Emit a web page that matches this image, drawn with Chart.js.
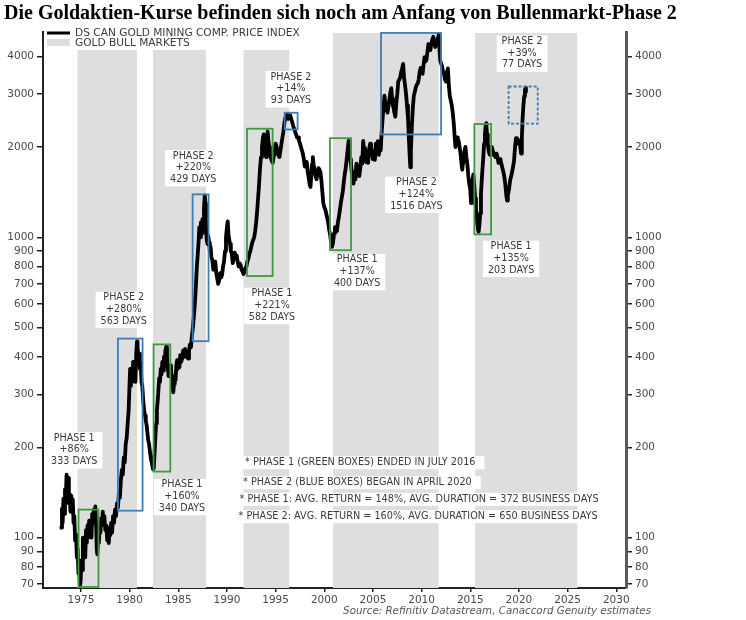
<!DOCTYPE html>
<html><head><meta charset="utf-8">
<script src="https://cdn.jsdelivr.net/npm/chart.js@4.4.0/dist/chart.umd.min.js"></script>
<style>
html,body{margin:0;padding:0;background:#fff;}
#wrap{position:relative;width:746px;height:620px;overflow:hidden;background:#fff;}
#title{position:absolute;left:4px;top:0px;font-family:'Liberation Serif',serif;font-weight:bold;font-size:20px;color:#000;white-space:nowrap;line-height:24px;}
#c{position:absolute;left:0;top:0;}
</style></head><body>
<div id="wrap"><canvas id="c" width="746" height="620"></canvas><div id="title">Die Goldaktien-Kurse befinden sich noch am Anfang von Bullenmarkt-Phase 2</div></div>
<script>
// ---------- DATA ----------
const seriesName = 'DS CAN GOLD MINING COMP. PRICE INDEX';
const bandName = 'GOLD BULL MARKETS';
// [year, index value]
const priceSeries = [
[1972.98,108],[1973.05,125],[1973.12,112],[1973.2,135],[1973.28,120],[1973.36,145],[1973.45,138],[1973.52,162],[1973.6,150],[1973.68,158],[1973.76,130],[1973.84,140],[1973.92,122],[1974.0,138],[1974.08,128],[1974.16,134],[1974.24,112],[1974.32,118],[1974.4,98],[1974.5,102],[1974.58,86],[1974.66,92],[1974.74,76],[1974.82,80],[1974.9,69],[1974.97,72],
[1975.05,84],[1975.12,78],[1975.2,100],[1975.28,90],[1975.36,96],[1975.44,86],[1975.52,106],[1975.6,96],[1975.68,110],[1975.76,100],[1975.84,114],[1975.92,104],[1976.0,110],[1976.08,100],[1976.16,120],[1976.24,112],[1976.32,124],[1976.4,116],[1976.48,127],[1976.56,110],[1976.62,92],[1976.68,88],[1976.76,100],[1976.84,96],[1976.92,108],[1977.0,104],[1977.08,116],[1977.16,110],[1977.24,122],[1977.32,114],[1977.4,118],[1977.5,106],[1977.6,110],[1977.7,98],[1977.78,102],[1977.86,96],[1977.94,108],[1978.02,102],[1978.1,112],[1978.2,104],[1978.3,118],[1978.4,112],[1978.5,124],[1978.6,118],[1978.7,130],[1978.8,126],[1978.9,141],[1979.0,136],[1979.1,155],[1979.2,168],[1979.3,162],[1979.4,185],[1979.5,178],[1979.6,205],[1979.7,215],[1979.8,240],[1979.9,265],
[1980.0,330],[1980.05,365],[1980.12,320],[1980.2,350],[1980.28,330],[1980.36,385],[1980.44,345],[1980.52,360],[1980.6,330],[1980.68,410],[1980.76,450],[1980.82,430],[1980.9,395],[1980.98,410],[1981.06,365],[1981.14,380],[1981.22,330],[1981.3,320],[1981.4,285],[1981.5,265],[1981.58,255],[1981.66,245],[1981.74,238],[1981.82,225],[1981.9,212],[1982.0,205],[1982.1,192],[1982.2,182],[1982.3,176],[1982.4,169],[1982.48,170],[1982.56,190],[1982.64,215],[1982.72,240],[1982.8,265],[1982.88,285],[1982.96,310],[1983.04,340],[1983.12,330],[1983.2,365],[1983.28,350],[1983.36,385],[1983.44,360],[1983.52,400],[1983.6,380],[1983.68,420],[1983.76,432],[1983.84,400],[1983.92,370],[1984.0,345],[1984.08,365],[1984.16,350],[1984.24,375],[1984.32,340],[1984.4,320],[1984.48,305],[1984.56,325],[1984.64,345],[1984.72,335],[1984.8,375],[1984.88,390],[1984.96,365],
[1985.04,385],[1985.12,370],[1985.2,405],[1985.3,385],[1985.4,395],[1985.5,420],[1985.6,400],[1985.7,425],[1985.8,400],[1985.9,415],[1986.0,395],[1986.1,420],[1986.2,440],[1986.3,430],[1986.4,470],[1986.5,500],[1986.6,545],[1986.7,600],[1986.8,680],[1986.9,790],[1987.0,880],[1987.08,960],[1987.16,1080],[1987.24,1000],[1987.32,1120],[1987.4,1020],[1987.48,1150],[1987.56,1040],[1987.64,1250],[1987.72,1380],[1987.78,1300],[1987.84,1100],[1987.92,980],[1988.0,950],[1988.08,1010],[1988.16,960],[1988.24,900],[1988.32,930],[1988.4,860],[1988.5,840],[1988.6,780],[1988.7,810],[1988.8,830],[1988.9,760],[1989.0,730],[1989.1,700],[1989.2,720],[1989.3,760],[1989.4,735],[1989.5,750],[1989.6,800],[1989.7,830],[1989.8,900],[1989.9,1000],
[1990.0,1080],[1990.08,1130],[1990.16,1020],[1990.24,980],[1990.32,950],[1990.4,900],[1990.5,880],[1990.6,820],[1990.7,850],[1990.8,890],[1990.9,860],[1991.0,870],[1991.1,830],[1991.2,800],[1991.3,820],[1991.4,810],[1991.5,780],[1991.6,770],[1991.7,755],[1991.8,770],[1991.9,790],[1992.0,800],[1992.1,830],[1992.2,850],[1992.3,880],[1992.4,900],[1992.5,930],[1992.6,960],[1992.7,980],[1992.8,1000],[1992.9,1050],[1993.0,1120],[1993.1,1220],[1993.2,1350],[1993.3,1500],[1993.4,1700],[1993.5,1850],[1993.6,2000],[1993.7,2150],[1993.78,2200],[1993.86,2050],[1993.94,1950],[1994.02,1850],[1994.1,2000],[1994.18,2250],[1994.26,2100],[1994.34,2000],[1994.42,1900],[1994.5,1850],[1994.6,1800],[1994.7,1770],[1994.8,1850],[1994.9,1950],
[1995.0,2050],[1995.1,2000],[1995.2,1900],[1995.3,1870],[1995.4,1850],[1995.5,1950],[1995.6,2050],[1995.7,2150],[1995.8,2250],[1995.9,2400],[1996.0,2500],[1996.1,2550],[1996.2,2570],[1996.3,2480],[1996.4,2520],[1996.5,2550],[1996.6,2480],[1996.7,2420],[1996.8,2350],[1996.9,2300],[1997.0,2250],[1997.1,2200],[1997.2,2150],[1997.3,2150],[1997.4,2100],[1997.5,2050],[1997.6,2000],[1997.7,1950],[1997.8,1900],[1997.9,1820],[1998.0,1720],[1998.1,1750],[1998.2,1780],[1998.3,1650],[1998.4,1580],[1998.5,1500],[1998.58,1470],[1998.66,1600],[1998.74,1750],[1998.82,1850],[1998.9,1750],[1999.0,1680],[1999.1,1600],[1999.2,1560],[1999.3,1620],[1999.4,1700],[1999.5,1680],[1999.6,1650],[1999.7,1550],[1999.8,1420],[1999.9,1300],
[2000.0,1260],[2000.1,1240],[2000.2,1200],[2000.3,1160],[2000.4,1120],[2000.5,1060],[2000.6,1020],[2000.7,960],[2000.8,930],[2000.9,960],[2001.0,1030],[2001.1,1080],[2001.2,1060],[2001.3,1050],[2001.4,1120],[2001.5,1170],[2001.6,1230],[2001.7,1300],[2001.8,1360],[2001.9,1420],[2002.0,1520],[2002.1,1620],[2002.2,1700],[2002.3,1820],[2002.4,1950],[2002.5,2094],[2002.58,1950],[2002.66,1820],[2002.74,1760],[2002.82,1650],[2002.9,1580],[2003.0,1510],[2003.1,1650],[2003.2,1560],[2003.3,1760],[2003.4,1640],[2003.5,1720],[2003.6,1600],[2003.7,1700],[2003.8,1850],[2003.9,1760],[2004.0,2094],[2004.1,1900],[2004.2,1980],[2004.3,1780],[2004.4,1850],[2004.5,1770],[2004.6,1950],[2004.7,2050],[2004.8,1880],[2004.9,1950],
[2005.0,1820],[2005.1,1900],[2005.2,1810],[2005.3,2050],[2005.4,1950],[2005.5,2090],[2005.6,1880],[2005.7,1980],[2005.8,1950],[2005.9,2250],[2006.0,2500],[2006.1,2750],[2006.18,2960],[2006.26,2800],[2006.34,2650],[2006.42,2700],[2006.5,2600],[2006.6,2750],[2006.7,2900],[2006.8,3050],[2006.88,3136],[2006.96,2900],[2007.04,2750],[2007.12,2700],[2007.2,2600],[2007.3,2520],[2007.4,2800],[2007.5,3000],[2007.6,3300],[2007.7,3350],[2007.8,3400],[2007.9,3550],[2008.0,3650],[2008.1,3780],[2008.2,3400],[2008.3,3200],[2008.4,3000],[2008.5,2750],[2008.6,2500],[2008.7,2100],[2008.78,1850],[2008.84,1710],[2008.9,1950],[2009.0,2350],[2009.1,2700],[2009.2,2950],[2009.3,3050],[2009.4,3150],[2009.5,3220],[2009.6,3250],[2009.7,3350],[2009.8,3550],[2009.9,3660],
[2010.0,3600],[2010.1,3500],[2010.2,3750],[2010.3,3980],[2010.4,3850],[2010.5,3900],[2010.6,4150],[2010.7,4400],[2010.8,4250],[2010.9,4200],[2011.0,4400],[2011.1,4550],[2011.2,4650],[2011.3,4500],[2011.4,4300],[2011.5,4400],[2011.6,4500],[2011.7,4650],[2011.76,4740],[2011.84,4200],[2011.92,3860],[2012.0,3800],[2012.1,3700],[2012.2,3550],[2012.3,3500],[2012.4,3350],[2012.5,3300],[2012.6,3500],[2012.7,3650],[2012.8,3200],[2012.9,2950],[2013.0,2850],[2013.1,2750],[2013.2,2600],[2013.3,2400],[2013.4,2150],[2013.48,1997],[2013.56,2100],[2013.64,2150],[2013.72,2050],[2013.8,2100],[2013.9,2000],[2014.0,1900],[2014.1,1750],[2014.18,1680],[2014.26,1780],[2014.34,1850],[2014.42,1950],[2014.5,2000],[2014.6,1850],[2014.7,1750],[2014.8,1600],[2014.9,1500],
[2015.0,1450],[2015.08,1300],[2015.16,1420],[2015.24,1550],[2015.32,1620],[2015.4,1500],[2015.5,1350],[2015.58,1250],[2015.66,1170],[2015.74,1100],[2015.8,1060],[2015.86,1043],[2015.94,1100],[2016.02,1200],[2016.1,1400],[2016.18,1550],[2016.26,1700],[2016.34,1850],[2016.42,2050],[2016.5,2200],[2016.58,2350],[2016.64,2400],[2016.72,2200],[2016.8,2050],[2016.88,1950],[2016.96,1900],[2017.04,1880],[2017.12,1950],[2017.2,2000],[2017.3,1950],[2017.4,1900],[2017.5,1870],[2017.6,1850],[2017.7,1900],[2017.8,1850],[2017.9,1770],[2018.0,1800],[2018.1,1820],[2018.2,1750],[2018.3,1700],[2018.4,1650],[2018.5,1590],[2018.6,1500],[2018.7,1380],[2018.78,1325],[2018.86,1380],[2018.94,1420],[2019.02,1480],[2019.1,1550],[2019.2,1600],[2019.3,1650],[2019.4,1720],[2019.5,1800],[2019.6,2000],[2019.7,2140],[2019.8,2050],[2019.9,2100],[2019.98,2094],
[2020.06,2100],[2020.14,2000],[2020.22,1900],[2020.3,2150],[2020.38,2500],[2020.46,2750],[2020.54,2950],[2020.62,3100],[2020.68,3150],[2020.72,3050]
];

const bullStart = [1974.65, 1982.4, 1991.7, 2000.9, 2015.5];
const bullEnd   = [1980.75, 1987.85, 1996.4, 2011.75, 2026.0];

// phase boxes: start year, end year, low value, high value, phase number
const boxStart = [1974.75, 1978.8, 1982.46, 1986.47, 1992.06, 1995.93, 2000.59, 2005.83, 2015.42, 2018.94];
const boxEnd   = [1976.8, 1981.33, 1984.18, 1988.11, 1994.69, 1997.26, 2002.75, 2012.0, 2017.14, 2021.93];
const boxLow   = [68, 123, 166, 451, 743, 2286, 906, 2200, 1023, 2389];
const boxHigh  = [124, 460, 440, 1390, 2299, 2598, 2138, 4790, 2383, 3177];
const boxPhase = [1, 2, 1, 2, 1, 2, 1, 2, 1, 2];

// annotation labels (one per box) and their anchor (year, value)
const labelPhase  = ['PHASE 1','PHASE 2','PHASE 1','PHASE 2','PHASE 1','PHASE 2','PHASE 1','PHASE 2','PHASE 1','PHASE 2'];
const labelReturn = ['+86%','+280%','+160%','+220%','+221%','+14%','+137%','+124%','+135%','+39%'];
const labelDays   = ['333 DAYS','563 DAYS','340 DAYS','429 DAYS','582 DAYS','93 DAYS','400 DAYS','1516 DAYS','203 DAYS','77 DAYS'];
const labelYear   = [1974.31, 1979.4, 1985.38, 1986.54, 1994.63, 1996.58, 2003.37, 2009.46, 2019.19, 2020.32];
const labelValue  = [196, 575, 137, 1705, 593, 3123, 769, 1390, 851, 4102];

const notes = ['* PHASE 1 (GREEN BOXES) ENDED IN JULY 2016',
               '* PHASE 2 (BLUE BOXES) BEGAN IN APRIL 2020',
               '* PHASE 1: AVG. RETURN = 148%, AVG. DURATION = 372 BUSINESS DAYS',
               '* PHASE 2: AVG. RETURN = 160%, AVG. DURATION = 650 BUSINESS DAYS'];
const sourceText = 'Source: Refinitiv Datastream, Canaccord Genuity estimates';

const xTicks = [1975,1980,1985,1990,1995,2000,2005,2010,2015,2020,2025,2030];
const yTicks = [70,80,90,100,200,300,400,500,600,700,800,900,1000,2000,3000,4000];

// ---------- LAYOUT / STYLE ----------
const noteX = [245, 243, 239.5, 238.5];
const noteY = [462.7, 482.7, 499.3, 516.7];
const BAND = '#dedede', GREEN = '#3f9a3f', BLUE = '#3f7db5';
const TXT = '#3a3a3a';
const FONT = 'DejaVu Sans';

const bandsPlugin = {
  id:'bands',
  beforeDatasetsDraw(chart){
    const {ctx, chartArea:a, scales:{x}} = chart;
    ctx.save();
    ctx.fillStyle = BAND;
    for(let i=0;i<bullStart.length;i++){
      const x1 = x.getPixelForValue(bullStart[i]), x2 = x.getPixelForValue(bullEnd[i]);
      ctx.fillRect(x1, a.top+1, x2-x1, a.bottom-a.top-1);
    }
    ctx.restore();
  }
};

const overlayPlugin = {
  id:'overlay',
  afterDatasetsDraw(chart){
    const {ctx, chartArea:a, scales:{x, y}} = chart;
    ctx.save();
    // phase boxes
    for(let i=0;i<boxStart.length;i++){
      const x1 = x.getPixelForValue(boxStart[i]), x2 = x.getPixelForValue(boxEnd[i]);
      const y1 = y.getPixelForValue(boxHigh[i]), y2 = y.getPixelForValue(boxLow[i]);
      ctx.strokeStyle = boxPhase[i]===1 ? GREEN : BLUE;
      ctx.lineWidth = 1.8;
      ctx.setLineDash(i===boxStart.length-1 ? [3,2] : []);
      ctx.strokeRect(x1, y1, x2-x1, Math.min(y2, a.bottom-1)-y1);
    }
    ctx.setLineDash([]);
    // labels
    ctx.font = `9.6px "${FONT}"`;
    ctx.textAlign = 'center';
    ctx.textBaseline = 'middle';
    for(let i=0;i<labelPhase.length;i++){
      const cx = x.getPixelForValue(labelYear[i]), cy = y.getPixelForValue(labelValue[i]);
      const lines = [labelPhase[i], labelReturn[i], labelDays[i]];
      const w = Math.max(...lines.map(t=>ctx.measureText(t).width)) + 10;
      ctx.fillStyle = '#fff';
      ctx.fillRect(cx - w/2, cy - 11.7 - 6, w, 11.7*2 + 13);
      ctx.fillStyle = TXT;
      lines.forEach((t,k)=> ctx.fillText(t, cx, cy + (k-1)*11.7));
    }
    // footnotes
    ctx.font = `9.7px "${FONT}"`;
    ctx.textAlign = 'left';
    for(let i=0;i<notes.length;i++){
      const w = ctx.measureText(notes[i]).width;
      ctx.fillStyle = '#fff';
      ctx.fillRect(noteX[i]-3, noteY[i]-6.5, w+12, 13);
      ctx.fillStyle = TXT;
      ctx.fillText(notes[i], noteX[i], noteY[i]);
    }
    // legend
    ctx.font = `10.6px "${FONT}"`;
    ctx.fillStyle = '#fff';
    ctx.fillRect(a.left+1, a.top, 264, 18);
    ctx.strokeStyle = '#000'; ctx.lineWidth = 3;
    ctx.beginPath(); ctx.moveTo(47, 33); ctx.lineTo(70, 33); ctx.stroke();
    ctx.fillStyle = BAND; ctx.fillRect(47, 39, 23, 7);
    ctx.fillStyle = TXT;
    ctx.fillText(seriesName, 75, 33);
    ctx.fillText(bandName, 75, 43);
    // source
    ctx.font = `italic 10.3px "${FONT}"`;
    ctx.textAlign = 'right';
    ctx.fillStyle = '#555';
    ctx.fillText(sourceText, 651, 611);
    ctx.restore();
  }
};

const tickFont = {family: FONT, size: 10.5};
function yAxis(pos, width, borderColor, borderWidth){
  return {
    type:'logarithmic', position:pos, min:68, max:4825,
    afterFit(s){ s.width = width; },
    afterBuildTicks(s){ s.ticks = yTicks.map(v=>({value:v})); },
    ticks:{ callback:v=>String(v), font:tickFont, color:'#4a4a4a', padding:3, autoSkip:false },
    grid:{ drawOnChartArea:false, drawTicks:true, tickLength:6, color:'#222', lineWidth:1.5 },
    border:{ display:true, color:borderColor, width:borderWidth }
  };
}

new Chart(document.getElementById('c'), {
  type:'line',
  data:{ datasets:[{
    label: seriesName,
    data: priceSeries.map(p=>({x:p[0], y:p[1]})),
    borderColor:'#000', borderWidth:3.8, pointRadius:0, tension:0, yAxisID:'y',
    borderJoinStyle:'round', borderCapStyle:'round'
  }]},
  options:{
    responsive:false, animation:false, devicePixelRatio:1,
    layout:{ padding:{ left:0, right:0, top:32, bottom:0 } },
    plugins:{ legend:{display:false}, tooltip:{enabled:false}, title:{display:false} },
    scales:{
      x:{
        type:'linear', min:1971.1, max:2031,
        afterFit(s){ s.height = 32; },
        afterBuildTicks(s){ s.ticks = xTicks.map(v=>({value:v})); },
        ticks:{ callback:v=>String(v), font:tickFont, color:'#4a4a4a', padding:2, maxRotation:0, autoSkip:false },
        grid:{ drawOnChartArea:false, drawTicks:true, tickLength:4, color:'#222', lineWidth:1.5 },
        border:{ display:true, color:'#222', width:2 }
      },
      y: yAxis('left', 43, '#222', 2),
      y2: yAxis('right', 120, '#5a5a5a', 3)
    }
  },
  plugins:[bandsPlugin, overlayPlugin]
});
</script>
</body></html>
